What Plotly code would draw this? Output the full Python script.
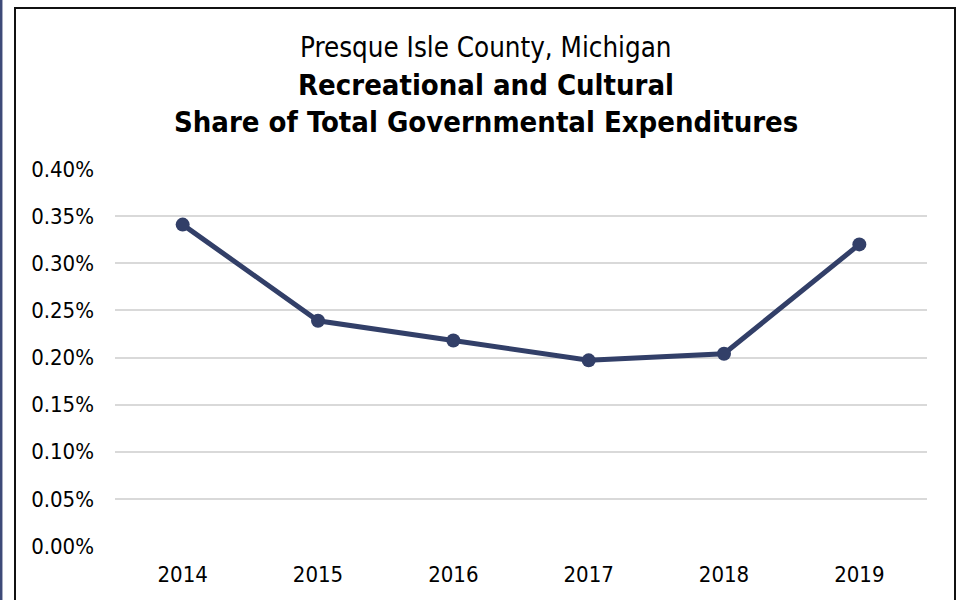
import plotly.graph_objects as go

years = ["2014", "2015", "2016", "2017", "2018", "2019"]
share_pct = [0.341, 0.239, 0.218, 0.197, 0.204, 0.320]
y_ticks = [0.00, 0.05, 0.10, 0.15, 0.20, 0.25, 0.30, 0.35, 0.40]
y_tick_text = ["0.00%", "0.05%", "0.10%", "0.15%", "0.20%", "0.25%", "0.30%", "0.35%", "0.40%"]

W, H = 961, 600
L, R, T, B = 115, 34, 169, 54
PW, PH = W - L - R, H - T - B

def px(x):
    return (x - L) / PW

def py(y):
    return (H - B - y) / PH

FONT = "DejaVu Sans Condensed"
LINE = "#323F68"

fig = go.Figure()
fig.add_trace(go.Scatter(
    x=years, y=share_pct, mode="lines+markers",
    line=dict(color=LINE, width=5),
    marker=dict(color=LINE, size=14),
    hoverinfo="x+y", showlegend=False,
))

fig.update_layout(
    width=W, height=H,
    margin=dict(l=L, r=R, t=T, b=B),
    paper_bgcolor="white", plot_bgcolor="white",
    font=dict(family=FONT, color="#000000", size=22),
    xaxis=dict(type="category", range=[-0.5, 5.5], showgrid=False, showline=False,
               zeroline=False, ticks="", tickfont=dict(size=22, family=FONT),
               ticklabelstandoff=13),
    yaxis=dict(range=[0, 0.40], tickvals=y_ticks, ticktext=y_tick_text,
               showgrid=True, gridcolor="#D9D9D9", gridwidth=1.5, zeroline=False,
               showline=False, ticks="", tickfont=dict(size=22, family=FONT),
               ticklabelstandoff=20),
    shapes=[
        dict(type="line", xref="paper", yref="paper", x0=px(1.2), x1=px(1.2),
             y0=py(-10), y1=py(610), line=dict(color="#3E4A78", width=2.5)),
        dict(type="rect", xref="paper", yref="paper", x0=px(15), x1=px(955),
             y0=py(610), y1=py(8), line=dict(color="#111111", width=2)),
    ],
    annotations=[
        dict(text="Presque Isle County, Michigan", xref="paper", yref="paper",
             x=px(486), y=py(47), xanchor="center", yanchor="middle",
             showarrow=False, font=dict(size=27.5, family=FONT)),
        dict(text="<b>Recreational and Cultural</b>", xref="paper", yref="paper",
             x=px(486), y=py(85), xanchor="center", yanchor="middle",
             showarrow=False, font=dict(size=29, family=FONT)),
        dict(text="<b>Share of Total Governmental Expenditures</b>", xref="paper", yref="paper",
             x=px(486), y=py(122), xanchor="center", yanchor="middle",
             showarrow=False, font=dict(size=29, family=FONT)),
    ],
)

fig.write_html("out.html", config={"displayModeBar": False},
               post_script="document.body.style.margin='0';")
